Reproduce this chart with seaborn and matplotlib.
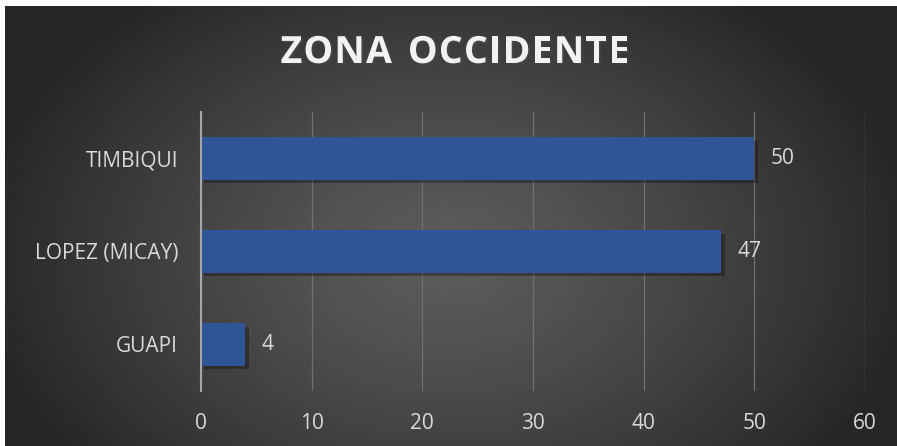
import numpy as np
import matplotlib
matplotlib.use("Agg")
import matplotlib.pyplot as plt
import matplotlib.patheffects as pe
import seaborn as sns

# data
categories = ["TIMBIQUI", "LOPEZ (MICAY)", "GUAPI"]
values = [50, 47, 4]
x_ticks = [0, 10, 20, 30, 40, 50, 60]
title = "ZONA OCCIDENTE"

BAR_COLOR = "#2F5597"
TEXT_COLOR = "#D9D9D9"
W, H = 897, 446

sns.set_theme(style="dark")
plt.rcParams["font.family"] = ["Open Sans", "DejaVu Sans"]

fig = plt.figure(figsize=(W / 100, H / 100), dpi=100, facecolor="white")

# radial dark gradient background (chart area, leaves thin white strip top/left)
bg = fig.add_axes([5 / W, 0, (W - 5) / W, (H - 6) / H])
gx, gy = np.meshgrid(np.linspace(0, W - 5, 600), np.linspace(0, H - 6, 300))
d = np.sqrt(((gx - 440) / 470) ** 2 + ((gy - 250) / 330) ** 2)
shade = 0.36 - (0.36 - 0.15) * np.clip(d, 0, 1) ** 1.3
bg.imshow(np.dstack([shade] * 3), aspect="auto", extent=[0, 1, 0, 1], origin="upper")
bg.set_axis_off()

ax = fig.add_axes([201 / W, 55 / H, 664 / W, 279 / H])
ax.patch.set_alpha(0)

sns.barplot(x=values, y=categories, orient="h", color=BAR_COLOR, saturation=1,
            width=0.46, linewidth=0, ax=ax, zorder=3)
for bar in ax.patches:
    bar.set_edgecolor("none")
    bar.set_path_effects([pe.SimplePatchShadow(offset=(2.5, -2.5), shadow_rgbFace="black", alpha=0.3),
                          pe.Normal()])

ax.bar_label(ax.containers[0], padding=11.5, color=TEXT_COLOR, fontsize=15)

ax.set_xlim(0, 60)
ax.set_xticks(x_ticks)
ax.set_xlabel("")
ax.set_ylabel("")
ax.tick_params(axis="both", colors=TEXT_COLOR, labelsize=15, length=0)
ax.tick_params(axis="x", pad=16)
ax.tick_params(axis="y", pad=16.5)
for lbl in ax.get_xticklabels() + ax.get_yticklabels():
    lbl.set_color(TEXT_COLOR)

ax.grid(axis="x", color="#707070", linewidth=0.9, zorder=0)
ax.grid(axis="y", visible=False)
for side in ["top", "right", "bottom"]:
    ax.spines[side].set_visible(False)
ax.spines["left"].set_color("#A6A6A6")
ax.spines["left"].set_linewidth(1.5)
ax.spines["left"].set_zorder(4)

# title with a little letter spacing, placed char by char
renderer = fig.canvas.get_renderer()
title_kw = dict(color="#F2F2F2", fontsize=27, fontweight="bold", va="center", ha="left",
                path_effects=[pe.SimplePatchShadow(offset=(1.5, -1.5), alpha=0.6), pe.Normal()])
spacing = 1.2
widths = []
for ch in title:
    t = fig.text(0, 0, ch if ch != " " else "n", **title_kw)
    w = t.get_window_extent(renderer).width
    widths.append(w * 0.55 if ch == " " else w)
    t.remove()
total = sum(widths) + spacing * (len(title) - 1)
x = 455 - total / 2
for ch, w in zip(title, widths):
    if ch != " ":
        fig.text(x / W, 1 - 53 / H, ch, **title_kw)
    x += w + spacing

fig.savefig("out.png", dpi=100, facecolor=fig.get_facecolor())
